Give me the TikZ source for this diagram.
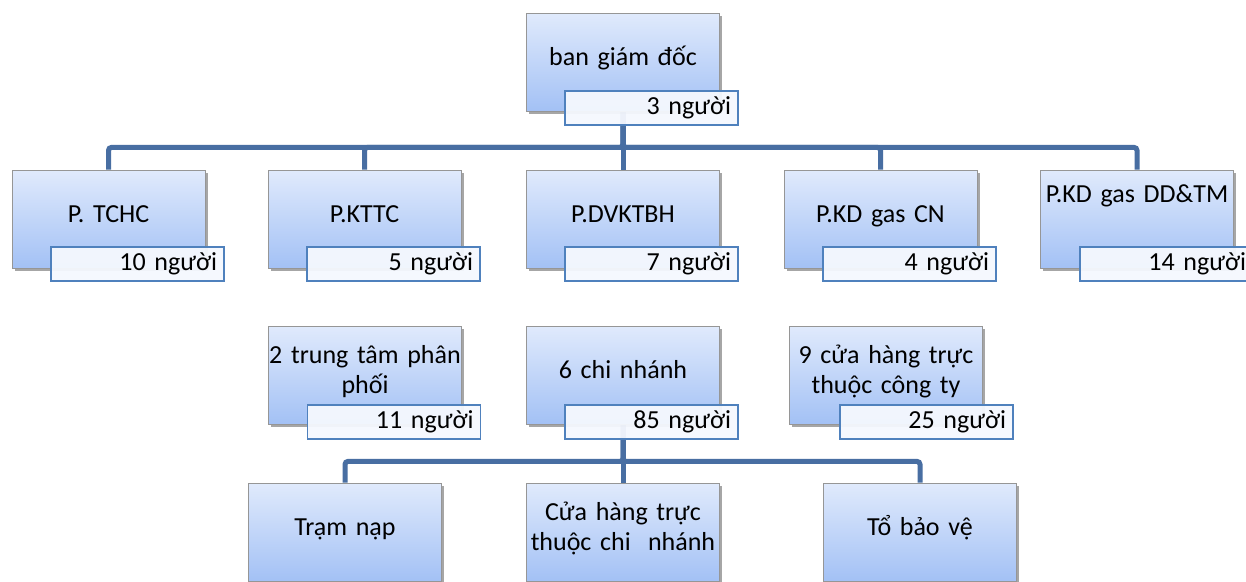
\documentclass[tikz,border=0pt]{standalone}
\usepackage{fontspec}
\setmainfont{Carlito}
\usetikzlibrary{shadows,calc}
\pgfdeclarelayer{bg}
\pgfsetlayers{bg,main}
\definecolor{linec}{RGB}{72,110,162}
\definecolor{boxtop}{RGB}{224,234,252}
\definecolor{boxbot}{RGB}{163,193,245}
\definecolor{boxline}{RGB}{150,150,150}
\definecolor{lblline}{RGB}{79,129,189}
\definecolor{lblfill}{RGB}{245,248,254}
\begin{document}
\begin{tikzpicture}[x=1pt,y=-1pt,
  unit/.style={rectangle, draw=boxline, line width=0.8pt, top color=boxtop, bottom color=boxbot,
    minimum height=98pt, inner sep=0pt, text width=193pt, align=center,
    text height=20pt, text depth=13pt,
    font=\fontsize{26}{30}\selectfont,
    drop shadow={shadow xshift=2.5pt, shadow yshift=-2.5pt, opacity=0.35, fill=black}},
  twoline/.style={text depth=43pt},
  count/.style={rectangle, draw=lblline, line width=1.6pt, fill=lblfill, fill opacity=0.95, text opacity=1,
    minimum height=34pt, inner xsep=7pt, inner ysep=0pt, text width=159pt, align=right,
    text height=18pt, text depth=5pt,
    font=\fontsize{26}{30}\selectfont},
  conn/.style={draw=linec, line width=5pt, rounded corners=3pt}]
\useasboundingbox (0,0) rectangle (1246,581);
\begin{pgfonlayer}{bg}
\fill[white] (0,0) rectangle (1246,581);
\end{pgfonlayer}

% top
\node[unit] (bgd) at (623,62) {ban giám đốc};
\node[count] (bgdn) at (651.5,108) {3 người};

% row 1
\node[unit] (tchc) at (108.5,219) {P. TCHC};
\node[count] (tchcn) at (137.5,264) {10 người};
\node[unit] (kttc) at (364.5,219) {P.KTTC};
\node[count] (kttcn) at (393.5,264) {5 người};
\node[unit] (dv) at (623,219) {P.DVKTBH};
\node[count] (dvn) at (651.5,264) {7 người};
\node[unit] (kdcn) at (880.5,219) {P.KD gas CN};
\node[count] (kdcnn) at (909.5,264) {4 người};
\node[unit, text depth=53pt] (kddd) at (1137,219) {P.KD gas DD\&TM};
\node[count] (kdddn) at (1166.5,264) {14 người};

% row 2
\node[unit, twoline] (tt) at (365,375) {2 trung tâm phân\\phối};
\node[count] (ttn) at (394,422) {11 người};
\node[unit] (cn) at (623,375) {6 chi nhánh};
\node[count] (cnn) at (651.5,422) {85 người};
\node[unit, twoline] (ch) at (886,375) {9 cửa hàng trực\\thuộc công ty};
\node[count] (chn) at (926.5,422) {25 người};

% row 3
\node[unit] (tram) at (345,532) {Trạm nạp};
\node[unit, twoline] (chcn) at (623,532) {Cửa hàng trực\\thuộc chi~ nhánh};
\node[unit] (tbv) at (920,532) {Tổ bảo vệ};

\begin{pgfonlayer}{bg}
\draw[conn] (bgd.south) -- ++(0,36) -| (tchc.north);
\draw[conn] (bgd.south) -- ++(0,36) -| (kttc.north);
\draw[conn] (bgd.south) -- (dv.north);
\draw[conn] (bgd.south) -- ++(0,36) -| (kdcn.north);
\draw[conn] (bgd.south) -- ++(0,36) -| (kddd.north);
\draw[conn] (cn.south) -- ++(0,37) -| (tram.north);
\draw[conn] (cn.south) -- (chcn.north);
\draw[conn] (cn.south) -- ++(0,37) -| (tbv.north);
\end{pgfonlayer}
\end{tikzpicture}
\end{document}
